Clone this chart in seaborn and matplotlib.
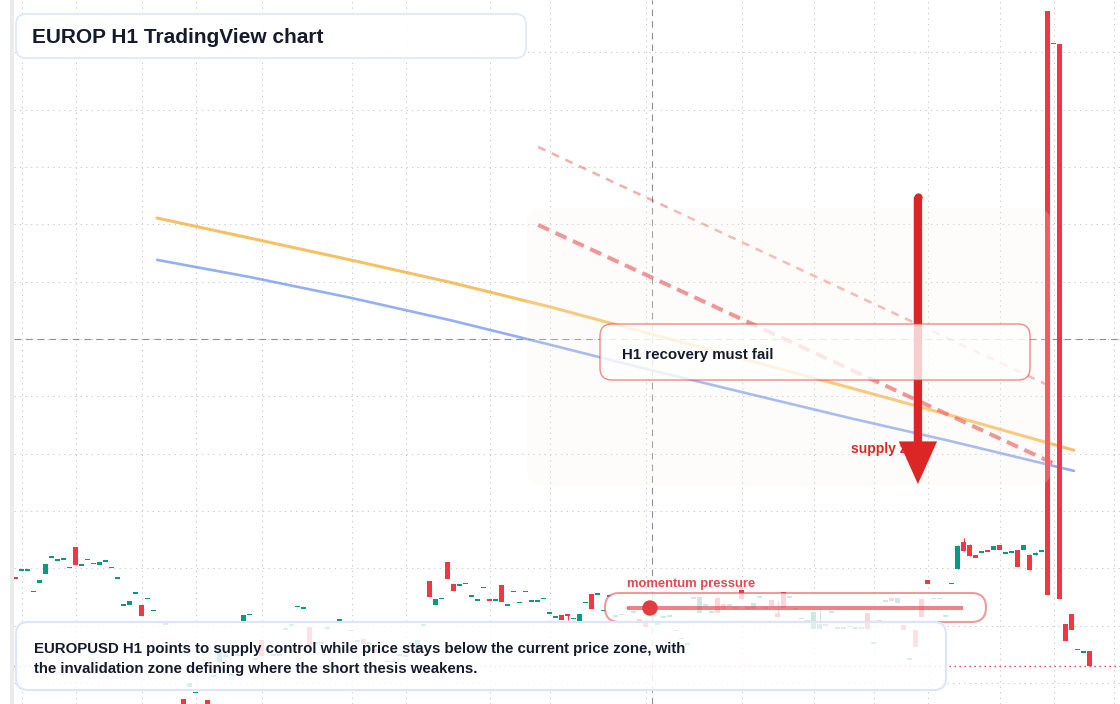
import numpy as np
import matplotlib
matplotlib.use("Agg")
import matplotlib.pyplot as plt
import matplotlib.colors as mcolors
from matplotlib.patches import FancyBboxPatch, Rectangle, Circle
from matplotlib.transforms import IdentityTransform
from matplotlib.lines import Line2D
import seaborn as sns

# ---------------- data ----------------
bar_index = list(range(-1, 179))
opens = [
    1.07985, 1.07997, 1.07997, 1.07959, 1.07974, 1.07990, 1.08020, 1.08013, 1.08015, 1.08002,
    1.08037, 1.08006, 1.08015, 1.08008, 1.08006, 1.08013, 1.08002, 1.07983, 1.07936, 1.07936,
    1.07957, 1.07936, 1.07947, 1.07926, 1.07905, 1.07903, 1.07756, 1.07752, 1.07772, 1.07793,
    1.07783, 1.07788, 1.07770, 1.07812, 1.07837, 1.07847, 1.07814, 1.07849, 1.07908, 1.07919,
    1.07842, 1.07875, 1.07858, 1.07849, 1.07849, 1.07894, 1.07901, 1.07933, 1.07931, 1.07898,
    1.07870, 1.07870, 1.07896, 1.07905, 1.07906, 1.07906, 1.07892, 1.07873, 1.07877, 1.07870,
    1.07859, 1.07856, 1.07837, 1.07837, 1.07849, 1.07847, 1.07870, 1.07858, 1.07901, 1.07978,
    1.07936, 1.07947, 1.08011, 1.07973, 1.07971, 1.07973, 1.07952, 1.07945, 1.07966, 1.07947,
    1.07945, 1.07971, 1.07936, 1.07960, 1.07941, 1.07960, 1.07943, 1.07943, 1.07947, 1.07922,
    1.07915, 1.07919, 1.07920, 1.07912, 1.07908, 1.07941, 1.07955, 1.07953, 1.07926, 1.07952,
    1.07917, 1.07920, 1.07931, 1.07924, 1.07912, 1.07905, 1.07905, 1.07903, 1.07915, 1.07917,
    1.07892, 1.07878, 1.07868, 1.07948, 1.07922, 1.07936, 1.07924, 1.07948, 1.07938, 1.07936,
    1.07931, 1.07962, 1.07931, 1.07929, 1.07950, 1.07931, 1.07945, 1.07922, 1.07959, 1.07950,
    1.07929, 1.07912, 1.07908, 1.07894, 1.07894, 1.07903, 1.07924, 1.07896, 1.07896, 1.07898,
    1.07896, 1.07896, 1.07922, 1.07870, 1.07908, 1.07943, 1.07948, 1.07940, 1.07901, 1.07842,
    1.07892, 1.07947, 1.07980, 1.07947, 1.07947, 1.07917, 1.07973, 1.07999, 1.08046, 1.08041,
    1.08023, 1.08027, 1.08032, 1.08032, 1.08041, 1.08027, 1.08027, 1.08032, 1.08032, 1.08023,
    1.08023, 1.08030, 1.08972, 1.08916, 1.08915, 1.07903, 1.07920, 1.07859, 1.07854, 1.07856,
]
closes = [
    1.07981, 1.07997, 1.07997, 1.07959, 1.07980, 1.08008, 1.08020, 1.08016, 1.08018, 1.08002,
    1.08006, 1.08006, 1.08015, 1.08008, 1.08011, 1.08013, 1.08002, 1.07983, 1.07936, 1.07943,
    1.07957, 1.07917, 1.07947, 1.07926, 1.07905, 1.07903, 1.07756, 1.07752, 1.07753, 1.07800,
    1.07783, 1.07788, 1.07753, 1.07812, 1.07858, 1.07847, 1.07814, 1.07849, 1.07919, 1.07919,
    1.07842, 1.07847, 1.07858, 1.07849, 1.07849, 1.07894, 1.07901, 1.07933, 1.07931, 1.07866,
    1.07870, 1.07870, 1.07896, 1.07905, 1.07912, 1.07906, 1.07892, 1.07873, 1.07868, 1.07870,
    1.07852, 1.07856, 1.07837, 1.07837, 1.07849, 1.07847, 1.07870, 1.07875, 1.07901, 1.07950,
    1.07947, 1.07947, 1.07981, 1.07960, 1.07971, 1.07973, 1.07952, 1.07945, 1.07966, 1.07943,
    1.07945, 1.07941, 1.07936, 1.07960, 1.07941, 1.07960, 1.07943, 1.07943, 1.07947, 1.07922,
    1.07915, 1.07910, 1.07917, 1.07912, 1.07920, 1.07941, 1.07929, 1.07957, 1.07926, 1.07952,
    1.07917, 1.07920, 1.07931, 1.07924, 1.07905, 1.07898, 1.07905, 1.07903, 1.07915, 1.07917,
    1.07892, 1.07878, 1.07868, 1.07948, 1.07950, 1.07936, 1.07924, 1.07922, 1.07929, 1.07936,
    1.07931, 1.07947, 1.07931, 1.07940, 1.07950, 1.07931, 1.07934, 1.07915, 1.07931, 1.07950,
    1.07929, 1.07912, 1.07908, 1.07924, 1.07903, 1.07899, 1.07924, 1.07896, 1.07896, 1.07898,
    1.07896, 1.07896, 1.07894, 1.07870, 1.07908, 1.07943, 1.07943, 1.07948, 1.07892, 1.07842,
    1.07863, 1.07915, 1.07973, 1.07947, 1.07947, 1.07917, 1.07973, 1.08039, 1.08030, 1.08022,
    1.08018, 1.08030, 1.08028, 1.08039, 1.08032, 1.08027, 1.08030, 1.08002, 1.08041, 1.07997,
    1.08027, 1.08030, 1.07953, 1.08916, 1.07947, 1.07873, 1.07892, 1.07859, 1.07854, 1.07830,
]
wick_index = [91, 126, 133, 156, 157, 158, 168, 169]
wick_high = [1.07920, 1.07943, 1.07929, 1.08041, 1.08053, 1.08042, 1.08025, 1.08028]
wick_low = [1.07910, 1.07915, 1.07894, 1.07999, 1.08030, 1.08022, 1.07997, 1.08023]

ma_index = [22.6, 38.1, 54.8, 71.4, 88.1, 104.8, 121.4, 138.1, 154.8, 175.4]
ma_fast = [1.08611, 1.08576, 1.08538, 1.08499, 1.08456, 1.08409, 1.08362, 1.08315, 1.08267, 1.08206]
ma_slow = [1.08538, 1.08508, 1.08472, 1.08433, 1.08390, 1.08346, 1.08304, 1.08262, 1.08222, 1.08170]

trend_index = [86.1, 171.8]
trend_main = [1.08599, 1.08184]
trend_outer = [1.08735, 1.08316]

zone_index = [84.25, 171.6]
zone_price = [1.08145, 1.08628]

arrow_index = 149.4
arrow_from = 1.08648
arrow_to = 1.08147

crosshair_index = 105.1
crosshair_price = 1.0840

time_grid = [0, 9, 20, 29, 40, 55, 64, 78, 88, 104, 120, 132, 142, 151, 163, 172, 182]
price_grid = [1.078, 1.079, 1.080, 1.081, 1.082, 1.083, 1.084, 1.085, 1.086, 1.087, 1.088, 1.089]

title_text = "EUROP H1 TradingView chart"
note_text = "H1 recovery must fail"
zone_label = "supply zone"
momentum_label = "momentum pressure"
summary_lines = [
    "EUROPUSD H1 points to supply control while price stays below the current price zone, with",
    "the invalidation zone defining where the short thesis weakens.",
]

# ---------------- style ----------------
sns.set_theme(style="white")
plt.rcParams["font.family"] = ["Liberation Sans", "DejaVu Sans"]

W, H = 1120, 704
UP, DOWN = "#089981", "#f23645"
INK = "#151b2c"
PX = IdentityTransform()

fig = plt.figure(figsize=(W / 100, H / 100), dpi=100)
fig.patch.set_facecolor("white")
ax = fig.add_axes([14 / W, 0, (W - 14) / W, 1])
ax.set_facecolor("white")
ax.set_xlim(-1.25, 183.08)
ax.set_ylim(1.0776337, 1.0899128)
for s in ax.spines.values():
    s.set_visible(False)
ax.set_xticks(time_grid)
ax.set_yticks(price_grid)
ax.tick_params(length=0, labelbottom=False, labelleft=False)
ax.grid(True, color="#cdcdcd", lw=0.75, linestyle=(0, (1.3, 4)))
ax.set_axisbelow(True)

# left strip
fig.add_artist(Rectangle((10, 0), 4, H, transform=PX, color="#ebebeb", lw=0))

# ---------------- candles ----------------
o = np.array(opens)
c = np.array(closes)
x = np.array(bar_index)
px_price = (1.0899128 - 1.0776337) / H
lo = np.minimum(o, c)
hi = np.maximum(o, c)
minh = 1.3 * px_price
h = np.maximum(hi - lo, minh)
bottom = np.where(hi - lo < minh, (hi + lo) / 2 - minh / 2, lo)
cols = np.where(c >= o, UP, DOWN)
ax.bar(x, h, bottom=bottom, width=5 / 6, color=cols, linewidth=0, zorder=3.2)
wcols = [UP if closes[i + 1] >= opens[i + 1] else DOWN for i in wick_index]
ax.vlines(wick_index, wick_low, wick_high, colors=wcols, lw=0.8, zorder=3.1)

# last price line
ax.axhline(closes[-1], color=DOWN, lw=1.0, ls=(0, (1, 2.6)), zorder=2.5)

# crosshair
ax.axvline(crosshair_index, color="#8d9099", lw=0.8, ls=(0, (6, 4.5)), zorder=2.8)
ax.axhline(crosshair_price, color="#8d9099", lw=0.8, ls=(0, (6, 4.5)), zorder=2.8)

# moving averages
sns.lineplot(x=ma_index, y=ma_fast, ax=ax, color="#f5a623", alpha=0.7, lw=2.2,
             sort=False, zorder=3)
sns.lineplot(x=ma_index, y=ma_slow, ax=ax, color="#5b84f0", alpha=0.65, lw=1.9,
             sort=False, zorder=3)
ax.set_xlabel("")
ax.set_ylabel("")

# trend lines
ax.plot(trend_index, trend_outer, color="#e53e3e", alpha=0.42, lw=1.8,
        ls=(0, (3.2, 2.8)), zorder=3)
ax.plot(trend_index, trend_main, color="#e53e3e", alpha=0.65, lw=2.9,
        ls=(0, (3, 1.75)), zorder=3)

ax.set_xlim(-1.25, 183.08)
ax.set_ylim(1.0776337, 1.0899128)

# supply zone (data coords -> pixels for round corners)
(zx0, zy0), (zx1, zy1) = ax.transData.transform(
    [(zone_index[0], zone_price[0]), (zone_index[1], zone_price[1])])
ax.add_patch(FancyBboxPatch((zx0, zy0), zx1 - zx0, zy1 - zy0,
                            boxstyle="round,pad=0,rounding_size=16", transform=PX,
                            fc=mcolors.to_rgba("#fdf3e8", 0.2), ec="none", zorder=3.6))

ax.text(851, H - 453, zone_label, transform=PX, color="#dc2626", fontsize=10,
        fontweight="bold", va="baseline", ha="left", zorder=4.5)

# arrow
ax.annotate("", xy=(arrow_index, arrow_to), xytext=(arrow_index, arrow_from),
            arrowprops=dict(arrowstyle="simple,head_length=3.07,head_width=2.76,tail_width=0.6",
                            mutation_scale=10, fc="#dc2626", ec="none", lw=0,
                            shrinkA=0, shrinkB=0),
            zorder=5)
ax.plot([arrow_index], [arrow_from], marker="o", ms=5.9, color="#dc2626", mew=0, zorder=5)


def rbox(x0, y0, x1, y1, r, fc, ec, lw, z):
    p = FancyBboxPatch((x0, H - y1), x1 - x0, y1 - y0,
                       boxstyle=f"round,pad=0,rounding_size={r}", transform=PX,
                       fc=fc, ec=ec, lw=lw, zorder=z)
    ax.add_patch(p)


# H1 note box
rbox(600, 324, 1030, 380, 12, (1, 1, 1, 0.78), mcolors.to_rgba("#e53e3e", 0.6), 1.0, 6)
ax.text(622, H - 359, note_text, transform=PX, color=INK, fontsize=10.8,
        fontweight="bold", va="baseline", ha="left", zorder=6.5)

# momentum pill
rbox(605, 593, 986, 622, 14.5, (1, 1, 1, 0.8), mcolors.to_rgba("#e5484d", 0.55), 1.5, 6)
ax.add_line(Line2D([627, 963], [H - 608, H - 608], transform=PX,
                   color=mcolors.to_rgba("#e5484d", 0.68), lw=2.9,
                   solid_capstyle="butt", zorder=6.5))
ax.add_patch(Circle((650, H - 608), 7, transform=PX, color="#e23b40", zorder=6.6))
ax.text(627, H - 587, momentum_label, transform=PX, color="#e5484d", fontsize=9.4,
        fontweight="bold", va="baseline", ha="left", zorder=6.5)

# summary box
rbox(16, 622, 946, 690, 12, (1, 1, 1, 0.86), "#dbe6f8", 1.5, 8)
ax.text(34, H - 653, summary_lines[0], transform=PX, color=INK, fontsize=10.8,
        fontweight="bold", va="baseline", ha="left", zorder=8.5)
ax.text(34, H - 673, summary_lines[1], transform=PX, color=INK, fontsize=10.8,
        fontweight="bold", va="baseline", ha="left", zorder=8.5)

# title box
rbox(16, 14, 526, 58, 10, (1, 1, 1, 0.97), "#dbe6f8", 1.1, 8)
ax.text(32, H - 43, title_text, transform=PX, color=INK, fontsize=15,
        fontweight="bold", va="baseline", ha="left", zorder=8.5)

fig.savefig("out.png", dpi=100)
